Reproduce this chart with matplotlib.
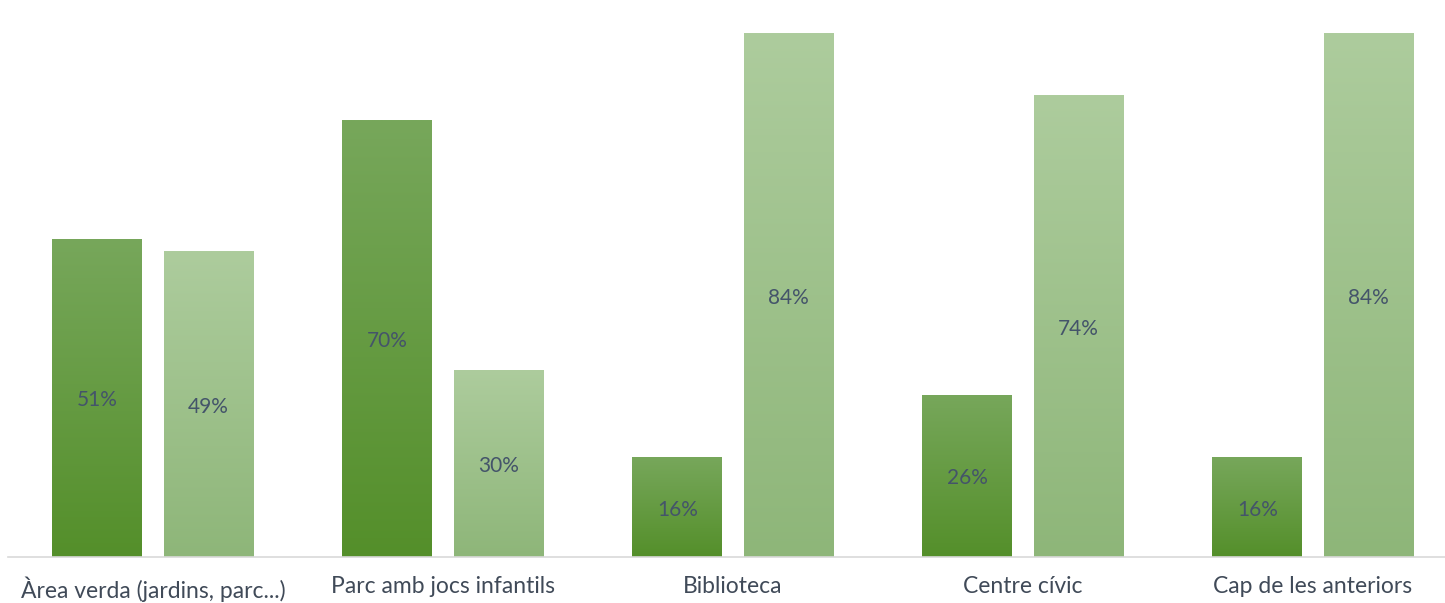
import numpy as np
import matplotlib.pyplot as plt
from matplotlib.colors import LinearSegmentedColormap

categories = ["Àrea verda (jardins, parc...)", "Parc amb jocs infantils",
              "Biblioteca", "Centre cívic", "Cap de les anteriors"]
dark_values = [51, 70, 16, 26, 16]
light_values = [49, 30, 84, 74, 84]

DARK_TOP, DARK_BOTTOM = "#77a75b", "#548f2a"
LIGHT_TOP, LIGHT_BOTTOM = "#adcc9d", "#8eb679"
TEXT_COLOR = "#44546a"
FONT = "Lato"


def gradient_bars(ax, bars, top, bottom):
    """
    Fills each bar with a vertical gradient from top colour to bottom colour.
    """
    cmap = LinearSegmentedColormap.from_list("g", [bottom, top])
    grad = np.linspace(0, 1, 256).reshape(-1, 1)
    for bar in bars:
        x, y = bar.get_x(), bar.get_y()
        w, h = bar.get_width(), bar.get_height()
        bar.set_facecolor("none")
        im = ax.imshow(grad, cmap=cmap, origin="lower", aspect="auto",
                       extent=[x, x + w, y, y + h], zorder=2)
        im.set_clip_path(bar)


fig = plt.figure(figsize=(14.45, 6.03), dpi=100)
ax = fig.add_axes([8 / 1445, (603 - 557) / 603, 1450 / 1445, 557 / 603])

x = np.arange(len(categories))
width = 0.31
offset = 0.192

dark = ax.bar(x - offset, dark_values, width, linewidth=0, zorder=2)
light = ax.bar(x + offset, light_values, width, linewidth=0, zorder=2)
gradient_bars(ax, dark, DARK_TOP, DARK_BOTTOM)
gradient_bars(ax, light, LIGHT_TOP, LIGHT_BOTTOM)

# value labels in the middle of each bar
for xs, vals in ((x - offset, dark_values), (x + offset, light_values)):
    for xi, v in zip(xs, vals):
        ax.text(xi, v / 2 - 0.4, f"{v}%", ha="center", va="center",
                fontsize=15, color=TEXT_COLOR, family=FONT, zorder=3)

ax.set_xlim(-0.5, len(categories) - 0.5)
ax.set_ylim(0, 89.3)
ax.set_xticks(x)
ax.set_xticklabels(categories, fontsize=16.5, color="#404a58", family=FONT)
ax.tick_params(axis="x", length=0, pad=14)
ax.set_yticks([])
for side in ("top", "right", "left"):
    ax.spines[side].set_visible(False)
ax.spines["bottom"].set_color("#d9d9d9")
ax.spines["bottom"].set_linewidth(1.2)

fig.savefig("out.png", dpi=100)
